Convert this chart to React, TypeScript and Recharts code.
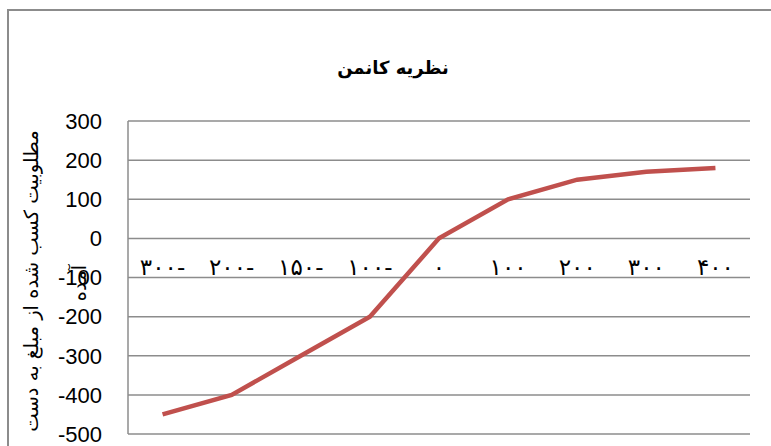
import React from "react";
import { ComposedChart, Line, XAxis, YAxis, CartesianGrid } from "recharts";

// page has an 8px body margin by default
document.body.style.margin = "0";
document.body.style.overflow = "hidden";

const categories = ["-300", "-200", "-150", "-100", "0", "100", "200", "300", "400"];
const catLabels = ["۳۰۰-", "۲۰۰-", "۱۵۰-", "۱۰۰-", "۰", "۱۰۰", "۲۰۰", "۳۰۰", "۴۰۰"];
const utility = [-450, -400, -300, -200, 0, 100, 150, 170, 180];
const yTicks = [300, 200, 100, 0, -100, -200, -300, -400, -500];

const title = "نظریه  کانمن";
const yTitleLine1 = "مطلوبیت کسب شده از مبلغ به دست";
const yTitleLine2 = "آمده";

const W = 771;
const H = 446;
const M = { top: 121, right: 21, bottom: 11, left: 0 };
const Y_AXIS_W = 128;
const Y_MIN = -500;
const Y_MAX = 300;
const PLOT_H = H - M.top - M.bottom - 1;
const PLOT_W = W - M.left - M.right - Y_AXIS_W;
// half a category on each side, like a band axis
const HALF_BAND = PLOT_W / categories.length / 2;
// category labels sit just above the -100 gridline
const LABEL_Y = M.top + ((Y_MAX - -100) / (Y_MAX - Y_MIN)) * PLOT_H - 3;

const data = categories.map((c, i) => ({ cat: c, label: catLabels[i], value: utility[i] }));

function XTick({ x, payload }: any) {
    const idx = categories.indexOf(payload.value);
    return (
        <text
            x={x}
            y={LABEL_Y}
            textAnchor="middle"
            fontFamily="DejaVu Sans"
            fontSize={23}
            letterSpacing={4}
            fill="#000"
        >
            {catLabels[idx]}
        </text>
    );
}

function YTitle() {
    return (
        <g fontFamily="DejaVu Sans" fontSize={19.5} fill="#000">
            <text x={32} y={281} textAnchor="middle" transform="rotate(-90 32 281)" dominantBaseline="middle">
                {yTitleLine1}
            </text>
            <text x={80} y={283} textAnchor="middle" transform="rotate(-90 80 283)" dominantBaseline="middle">
                {yTitleLine2}
            </text>
        </g>
    );
}

export default function App() {
    return (
        <div style={{ position: "relative", width: W, height: H, background: "#fff", overflow: "hidden" }}>
            {/* chart frame, cut off at right and bottom */}
            <div
                style={{
                    position: "absolute",
                    left: 7,
                    top: 9,
                    width: W,
                    height: H,
                    borderTop: "2px solid #8c8c8c",
                    borderLeft: "2px solid #8c8c8c",
                }}
            />
            <div
                style={{
                    position: "absolute",
                    left: 0,
                    width: 786,
                    top: 57,
                    textAlign: "center",
                    fontFamily: "DejaVu Sans",
                    fontWeight: "bold",
                    fontSize: 18,
                    direction: "rtl",
                }}
            >
                {title}
            </div>
            <div style={{ position: "absolute", left: 0, top: 0 }}>
                <ComposedChart width={W} height={H} data={data} margin={M}>
                    <CartesianGrid vertical={false} stroke="#8c8c8c" strokeWidth={1.5} />
                    <XAxis
                        dataKey="cat"
                        height={1}
                        padding={{ left: HALF_BAND, right: HALF_BAND }}
                        axisLine={false}
                        tickLine={false}
                        tick={<XTick />}
                        interval={0}
                    />
                    <YAxis
                        width={Y_AXIS_W}
                        domain={[Y_MIN, Y_MAX]}
                        ticks={yTicks}
                        interval={0}
                        axisLine={{ stroke: "#8c8c8c", strokeWidth: 1.5 }}
                        tickLine={false}
                        tickSize={0}
                        tickMargin={26}
                        tick={{ fill: "#000", fontSize: 22, fontFamily: "Liberation Sans" }}
                        label={<YTitle />}
                    />
                    <Line
                        dataKey="value"
                        stroke="#c0504d"
                        strokeWidth={4.5}
                        dot={false}
                        isAnimationActive={false}
                    />
                </ComposedChart>
            </div>
        </div>
    );
}
